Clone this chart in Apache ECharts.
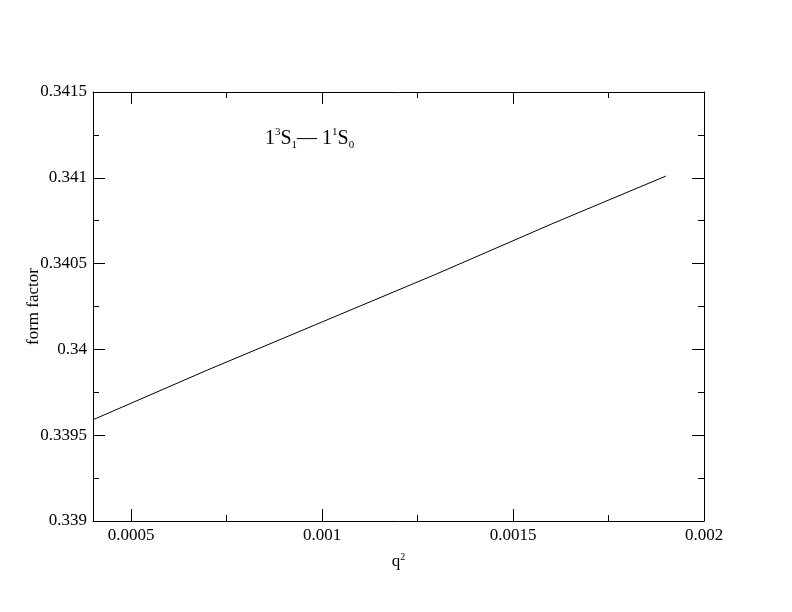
<!DOCTYPE html>
<html>
<head>
<meta charset="utf-8">
<script src="https://cdn.jsdelivr.net/npm/echarts@6/dist/echarts.min.js"></script>
<style>
  html, body { margin: 0; padding: 0; background: #fff; }
  #chart { width: 792px; height: 612px; }
</style>
</head>
<body>
<div id="chart"></div>
<script>
// data
var q2 = [0.0004, 0.0007, 0.001, 0.0013, 0.0016, 0.0019];
var formFactor = [0.33959, 0.33988, 0.34016, 0.34044, 0.34073, 0.34101];
var xMajor = [0.0005, 0.001, 0.0015, 0.002];
var xMinor = [0.00075, 0.00125, 0.00175];
var yMajor = [0.339, 0.3395, 0.34, 0.3405, 0.341, 0.3415];
var yMinor = [0.33925, 0.33975, 0.34025, 0.34075, 0.34125];

var font = '"Liberation Serif", "DejaVu Serif", serif';
var myChart = echarts.init(document.getElementById('chart'));

function fmt(v) { return String(+Number(v).toPrecision(6)); }

// 横轴
function xAx(pos, ticks, len, labels, line) {
    return {
        type: 'value', position: pos, min: 0.0004, max: 0.002,
        axisLine: { show: line, lineStyle: { color: '#000', width: 1 } },
        axisTick: { show: true, inside: true, length: len, customValues: ticks, lineStyle: { color: '#000' } },
        axisLabel: labels ? { show: true, customValues: ticks, color: '#000', fontFamily: font, fontSize: 17, margin: 6, formatter: fmt } : { show: false },
        splitLine: { show: false }
    };
}
// 纵轴
function yAx(pos, ticks, len, labels, line) {
    return {
        type: 'value', position: pos, min: 0.339, max: 0.3415,
        axisLine: { show: line, lineStyle: { color: '#000', width: 1 } },
        axisTick: { show: true, inside: true, length: len, customValues: ticks, lineStyle: { color: '#000' } },
        axisLabel: labels ? { show: true, customValues: ticks, color: '#000', fontFamily: font, fontSize: 17, margin: 6, formatter: fmt } : { show: false },
        splitLine: { show: false }
    };
}

var xb = xAx('bottom', xMajor, 12, true, true);
xb.name = '{a|q}{s|2}';
xb.nameLocation = 'middle';
xb.nameGap = 31;
xb.nameMoveOverlap = false;
xb.nameTextStyle = { rich: {
    a: { fontFamily: font, fontSize: 17, color: '#000' },
    s: { fontFamily: font, fontSize: 10, color: '#000', verticalAlign: 'top', padding: [0, 0, 10, 0] }
} };

var yl = yAx('left', yMajor, 12, true, true);
yl.name = 'form factor';
yl.nameLocation = 'middle';
yl.nameGap = 51;
yl.nameMoveOverlap = false;
yl.nameTextStyle = { fontFamily: font, fontSize: 17, color: '#000' };

var option = {
    backgroundColor: '#fff',
    animation: false,
    textStyle: { fontFamily: font },
    grid: { left: 93, right: 88, top: 92, bottom: 91 },
    xAxis: [
        xb,
        xAx('bottom', xMinor, 6, false, false),
        xAx('top', xMajor, 12, false, true),
        xAx('top', xMinor, 6, false, false)
    ],
    yAxis: [
        yl,
        yAx('left', yMinor, 6, false, false),
        yAx('right', yMajor, 12, false, true),
        yAx('right', yMinor, 6, false, false)
    ],
    graphic: [{
        type: 'text', left: 265, top: 127,
        style: {
            text: '{m|1}{u|3}{m|S}{d|1}{m|— 1}{u|1}{m|S}{d|0}',
            rich: {
                m: { fontFamily: font, fontSize: 20, fill: '#000', height: 24 },
                u: { fontFamily: font, fontSize: 11, fill: '#000', verticalAlign: 'top', padding: [0, 0, 10, 0] },
                d: { fontFamily: font, fontSize: 11, fill: '#000', verticalAlign: 'bottom', padding: [8, 0, 0, 0] }
            }
        }
    }],
    series: [{
        type: 'line',
        data: q2.map(function (x, i) { return [x, formFactor[i]]; }),
        showSymbol: false,
        lineStyle: { color: '#000', width: 1 },
        xAxisIndex: 0, yAxisIndex: 0
    }]
};

myChart.setOption(option);
</script>
</body>
</html>
